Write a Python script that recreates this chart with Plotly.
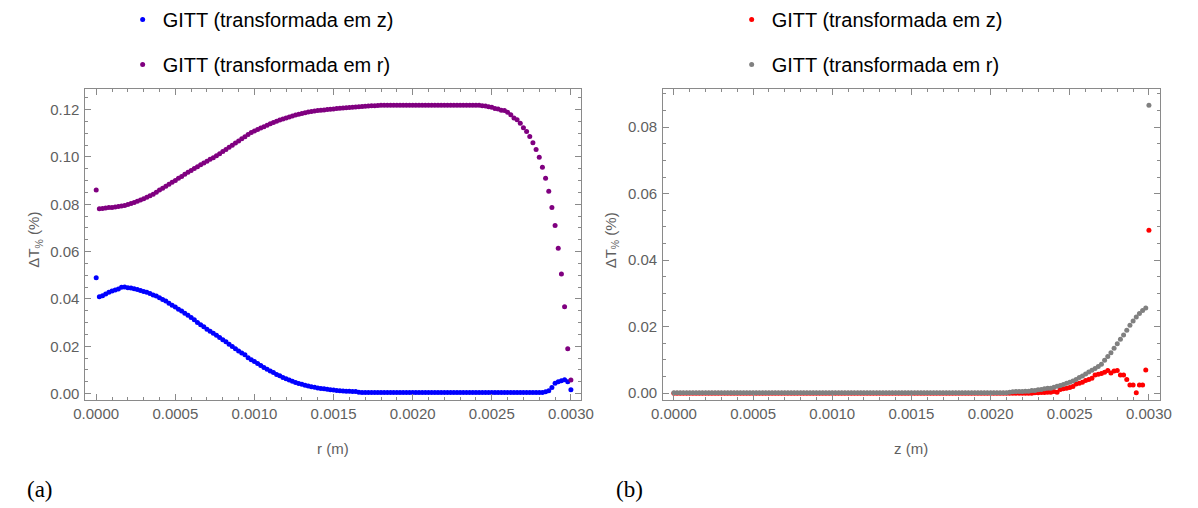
import numpy as np
import plotly.graph_objects as go

# Sample positions (m): 151 nodes, 0 to 0.003 m every 0.00002 m
r_m = np.round(np.arange(151) * 0.00002, 5)
z_m = np.round(np.arange(151) * 0.00002, 5)

# (a) Relative deviation along r, in %
dev_r_gitt_z = [
    0.0490, 0.0409, 0.0414, 0.0421, 0.0428, 0.0434, 0.0438, 0.0442, 0.0449, 0.0450,
    0.0447, 0.0446, 0.0443, 0.0440, 0.0436, 0.0432, 0.0428, 0.0423, 0.0417, 0.0413,
    0.0405, 0.0398, 0.0391, 0.0382, 0.0373, 0.0366, 0.0357, 0.0349, 0.0340, 0.0331,
    0.0322, 0.0312, 0.0301, 0.0291, 0.0283, 0.0272, 0.0263, 0.0255, 0.0247, 0.0237,
    0.0228, 0.0219, 0.0209, 0.0199, 0.0190, 0.0180, 0.0172, 0.0164, 0.0152, 0.0143,
    0.0136, 0.0127, 0.0119, 0.0110, 0.0103, 0.0096, 0.0089, 0.0081, 0.0075, 0.0068,
    0.0063, 0.0057, 0.0052, 0.0047, 0.0043, 0.0039, 0.0035, 0.0032, 0.0029, 0.0027,
    0.0024, 0.0022, 0.0020, 0.0018, 0.0016, 0.0015, 0.0013, 0.0012, 0.0011, 0.0010,
    0.0010, 0.0009, 0.0009, 0.0006, 0.0005, 0.0005, 0.0005, 0.0005, 0.0005, 0.0005,
    0.0005, 0.0005, 0.0005, 0.0005, 0.0005, 0.0005, 0.0005, 0.0005, 0.0005, 0.0005,
    0.0005, 0.0005, 0.0005, 0.0005, 0.0005, 0.0005, 0.0005, 0.0005, 0.0005, 0.0005,
    0.0005, 0.0005, 0.0005, 0.0005, 0.0005, 0.0005, 0.0005, 0.0005, 0.0005, 0.0005,
    0.0005, 0.0005, 0.0005, 0.0005, 0.0005, 0.0005, 0.0005, 0.0005, 0.0005, 0.0005,
    0.0005, 0.0005, 0.0005, 0.0005, 0.0005, 0.0005, 0.0005, 0.0005, 0.0005, 0.0005,
    0.0005, 0.0005, 0.0008, 0.0012, 0.0026, 0.0044, 0.0050, 0.0054, 0.0059, 0.0050,
    0.0016,
]

dev_r_gitt_r = [
    0.0860, 0.0781, 0.0782, 0.0784, 0.0786, 0.0787, 0.0789, 0.0791, 0.0793, 0.0795,
    0.0799, 0.0803, 0.0808, 0.0813, 0.0818, 0.0824, 0.0830, 0.0836, 0.0843, 0.0851,
    0.0860, 0.0868, 0.0876, 0.0885, 0.0893, 0.0901, 0.0910, 0.0918, 0.0927, 0.0935,
    0.0943, 0.0951, 0.0959, 0.0967, 0.0975, 0.0982, 0.0990, 0.0997, 0.1005, 0.1014,
    0.1023, 0.1032, 0.1041, 0.1050, 0.1059, 0.1068, 0.1077, 0.1086, 0.1095, 0.1103,
    0.1110, 0.1116, 0.1122, 0.1128, 0.1134, 0.1140, 0.1146, 0.1151, 0.1156, 0.1161,
    0.1165, 0.1169, 0.1173, 0.1177, 0.1181, 0.1184, 0.1187, 0.1190, 0.1192, 0.1194,
    0.1196, 0.1198, 0.1199, 0.1201, 0.1202, 0.1203, 0.1205, 0.1206, 0.1207, 0.1208,
    0.1209, 0.1210, 0.1211, 0.1212, 0.1213, 0.1214, 0.1215, 0.1216, 0.1217, 0.1218,
    0.1219, 0.1219, 0.1219, 0.1219, 0.1219, 0.1219, 0.1219, 0.1219, 0.1219, 0.1219,
    0.1219, 0.1219, 0.1219, 0.1219, 0.1219, 0.1219, 0.1219, 0.1219, 0.1219, 0.1219,
    0.1219, 0.1219, 0.1219, 0.1219, 0.1219, 0.1219, 0.1219, 0.1219, 0.1219, 0.1219,
    0.1219, 0.1219, 0.1216, 0.1215, 0.1212, 0.1210, 0.1205, 0.1203, 0.1198, 0.1196,
    0.1189, 0.1179, 0.1165, 0.1157, 0.1143, 0.1124, 0.1108, 0.1087, 0.1060, 0.1032,
    0.0999, 0.0957, 0.0910, 0.0855, 0.0786, 0.0710, 0.0614, 0.0505, 0.0367, 0.0190,
    0.0058,
]

# (b) Relative deviation along z, in %
dev_z_gitt_z = [
    0.0000, 0.0000, 0.0000, 0.0000, 0.0000, 0.0000, 0.0000, 0.0000, 0.0000, 0.0000,
    0.0000, 0.0000, 0.0000, 0.0000, 0.0000, 0.0000, 0.0000, 0.0000, 0.0000, 0.0000,
    0.0000, 0.0000, 0.0000, 0.0000, 0.0000, 0.0000, 0.0000, 0.0000, 0.0000, 0.0000,
    0.0000, 0.0000, 0.0000, 0.0000, 0.0000, 0.0000, 0.0000, 0.0000, 0.0000, 0.0000,
    0.0000, 0.0000, 0.0000, 0.0000, 0.0000, 0.0000, 0.0000, 0.0000, 0.0000, 0.0000,
    0.0000, 0.0000, 0.0000, 0.0000, 0.0000, 0.0000, 0.0000, 0.0000, 0.0000, 0.0000,
    0.0000, 0.0000, 0.0000, 0.0000, 0.0000, 0.0000, 0.0000, 0.0000, 0.0000, 0.0000,
    0.0000, 0.0000, 0.0000, 0.0000, 0.0000, 0.0000, 0.0000, 0.0000, 0.0000, 0.0000,
    0.0000, 0.0000, 0.0000, 0.0000, 0.0000, 0.0000, 0.0000, 0.0000, 0.0000, 0.0000,
    0.0000, 0.0000, 0.0000, 0.0000, 0.0000, 0.0000, 0.0000, 0.0000, 0.0000, 0.0000,
    0.0000, 0.0000, 0.0000, 0.0000, 0.0000, 0.0000, 0.0000, 0.0000, 0.0000, 0.0000,
    0.0000, 0.0000, 0.0000, 0.0000, 0.0001, 0.0001, 0.0002, 0.0002, 0.0003, 0.0003,
    0.0005, 0.0003, 0.0011, 0.0013, 0.0015, 0.0017, 0.0020, 0.0028, 0.0030, 0.0033,
    0.0038, 0.0041, 0.0045, 0.0055, 0.0057, 0.0059, 0.0063, 0.0068, 0.0061, 0.0067,
    0.0068, 0.0055, 0.0055, 0.0041, 0.0025, 0.0025, 0.0001, 0.0025, 0.0025, 0.0070,
    0.0490,
]

dev_z_gitt_r = [
    0.0001, 0.0001, 0.0001, 0.0001, 0.0001, 0.0001, 0.0001, 0.0001, 0.0001, 0.0001,
    0.0001, 0.0001, 0.0001, 0.0001, 0.0001, 0.0001, 0.0001, 0.0001, 0.0001, 0.0001,
    0.0001, 0.0001, 0.0001, 0.0001, 0.0001, 0.0001, 0.0001, 0.0001, 0.0001, 0.0001,
    0.0001, 0.0001, 0.0001, 0.0001, 0.0001, 0.0001, 0.0001, 0.0001, 0.0001, 0.0001,
    0.0001, 0.0001, 0.0001, 0.0001, 0.0001, 0.0001, 0.0001, 0.0001, 0.0001, 0.0001,
    0.0001, 0.0001, 0.0001, 0.0001, 0.0001, 0.0001, 0.0001, 0.0001, 0.0001, 0.0001,
    0.0001, 0.0001, 0.0001, 0.0001, 0.0001, 0.0001, 0.0001, 0.0001, 0.0001, 0.0001,
    0.0001, 0.0001, 0.0001, 0.0001, 0.0001, 0.0001, 0.0001, 0.0001, 0.0001, 0.0001,
    0.0001, 0.0001, 0.0001, 0.0001, 0.0001, 0.0001, 0.0001, 0.0001, 0.0001, 0.0001,
    0.0001, 0.0001, 0.0001, 0.0001, 0.0001, 0.0001, 0.0001, 0.0001, 0.0001, 0.0001,
    0.0001, 0.0001, 0.0001, 0.0001, 0.0001, 0.0001, 0.0003, 0.0004, 0.0005, 0.0005,
    0.0005, 0.0006, 0.0006, 0.0008, 0.0008, 0.0010, 0.0011, 0.0013, 0.0015, 0.0015,
    0.0018, 0.0021, 0.0023, 0.0026, 0.0030, 0.0033, 0.0037, 0.0041, 0.0047, 0.0052,
    0.0058, 0.0064, 0.0069, 0.0074, 0.0080, 0.0087, 0.0099, 0.0110, 0.0122, 0.0135,
    0.0149, 0.0162, 0.0175, 0.0189, 0.0204, 0.0217, 0.0229, 0.0240, 0.0249, 0.0256,
    0.0866,
]

W, H = 1198, 508
SANS = "Liberation Sans, Arial, sans-serif"
SERIF = "Liberation Serif, Times New Roman, serif"
FRAME = "#8a8a8a"
TXT = "#5f5f5f"


def px_x(p):
    return p / W


def px_y(p):
    return 1 - p / H


fig = go.Figure()

fig.add_trace(go.Scatter(x=r_m, y=dev_r_gitt_z, mode="markers", name="GITT (transformada em z)",
                         marker=dict(color="#0000ff", size=5), xaxis="x", yaxis="y",
                         legend="legend", legendgroup="a1"))
fig.add_trace(go.Scatter(x=r_m, y=dev_r_gitt_r, mode="markers", name="GITT (transformada em r)",
                         marker=dict(color="#800080", size=5), xaxis="x", yaxis="y",
                         legend="legend", legendgroup="a2"))
fig.add_trace(go.Scatter(x=z_m, y=dev_z_gitt_z, mode="markers", name="GITT (transformada em z)",
                         marker=dict(color="#ff0000", size=5), xaxis="x2", yaxis="y2",
                         legend="legend2", legendgroup="b1"))
fig.add_trace(go.Scatter(x=z_m, y=dev_z_gitt_r, mode="markers", name="GITT (transformada em r)",
                         marker=dict(color="#808080", size=5), xaxis="x2", yaxis="y2",
                         legend="legend2", legendgroup="b2"))


def x_axis(dom, rng, anchor):
    return dict(domain=dom, range=rng, anchor=anchor, tick0=0, dtick=0.0005, tickformat=".4f",
                ticks="inside", ticklen=6, tickwidth=1, tickcolor=FRAME,
                showline=True, linecolor=FRAME, linewidth=1, mirror="allticks",
                minor=dict(dtick=0.0001, ticks="inside", ticklen=3, tickcolor=FRAME),
                showgrid=False, zeroline=False,
                tickfont=dict(family=SANS, size=15, color=TXT))


def y_axis(dom, rng, anchor):
    return dict(domain=dom, range=rng, anchor=anchor, tick0=0, dtick=0.02, tickformat=".2f",
                ticks="inside", ticklen=6, tickwidth=1, tickcolor=FRAME,
                showline=True, linecolor=FRAME, linewidth=1, mirror="allticks",
                minor=dict(dtick=0.005, ticks="inside", ticklen=3, tickcolor=FRAME),
                showgrid=False, zeroline=False, ticklabelstandoff=2,
                tickfont=dict(family=SANS, size=15, color=TXT))


ydom = [px_y(401), px_y(88)]
legend_style = dict(xanchor="left", yanchor="top", bgcolor="rgba(0,0,0,0)",
                    font=dict(family=SANS, size=20, color="black"),
                    tracegroupgap=16, itemsizing="trace")

fig.update_layout(
    width=W, height=H, autosize=False,
    margin=dict(l=0, r=0, t=0, b=0),
    paper_bgcolor="white", plot_bgcolor="white",
    xaxis=x_axis([px_x(75), px_x(581)], [-0.000068, 0.003063], "y"),
    yaxis=y_axis(ydom, [-0.00264, 0.1286], "x"),
    xaxis2=x_axis([px_x(665), px_x(1172)], [-0.000068, 0.003067], "y2"),
    yaxis2=y_axis(ydom, [-0.0020, 0.0914], "x2"),
    legend=dict(x=px_x(113), y=px_y(-2), **legend_style),
    legend2=dict(x=px_x(735), y=px_y(-2), **legend_style),
    showlegend=True,
)

annotations = [
    dict(text="r (m)", x=px_x(328), y=px_y(450)),
    dict(text="z (m)", x=px_x(918), y=px_y(450)),
    dict(text="ΔT<sub>%</sub> (%)", x=px_x(23), y=px_y(240), textangle=-90),
    dict(text="ΔT<sub>%</sub> (%)", x=px_x(612), y=px_y(240), textangle=-90),
]
for a in annotations:
    fig.add_annotation(xref="paper", yref="paper", showarrow=False,
                       xanchor="center", yanchor="middle",
                       font=dict(family=SANS, size=15, color=TXT), **a)

for label, cx in (("(a)", 29), ("(b)", 631)):
    fig.add_annotation(text=label, xref="paper", yref="paper", x=px_x(cx), y=px_y(491),
                       showarrow=False, xanchor="center", yanchor="middle",
                       font=dict(family=SERIF, size=23, color="black"))

fig.write_html("out.html")
